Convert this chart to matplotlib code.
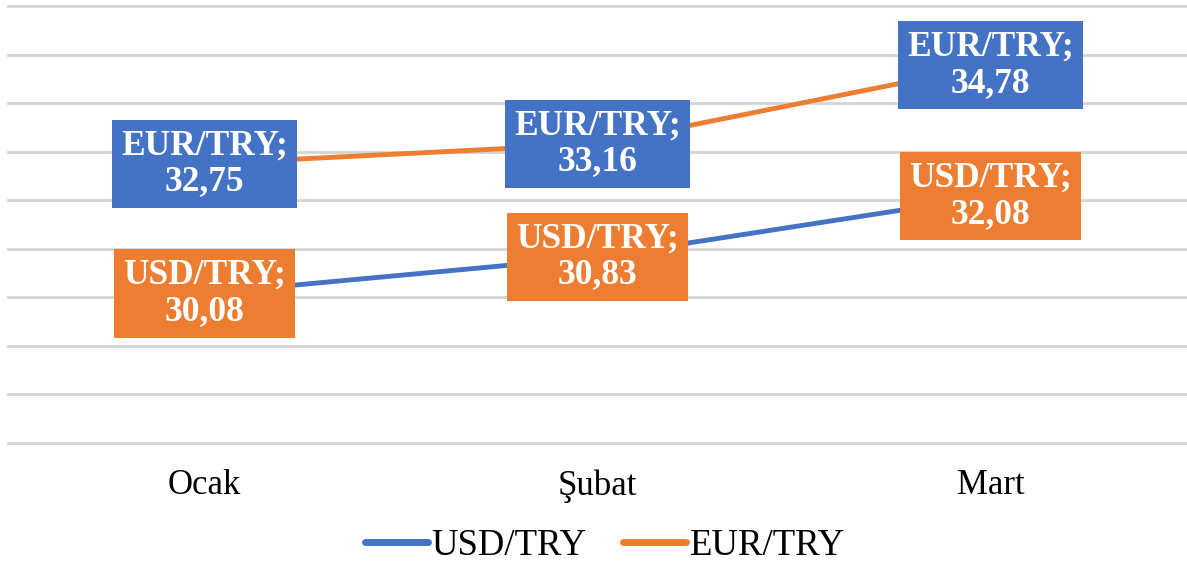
import matplotlib.pyplot as plt
import numpy as np

# Aylık kur verisi
months = ['Ocak', 'Şubat', 'Mart']
usd_try = [30.08, 30.83, 32.08]
eur_try = [32.75, 33.16, 34.78]

blue = '#4472C4'
orange = '#ED7D31'

plt.rcParams['font.family'] = ['Liberation Serif', 'DejaVu Serif']

fig = plt.figure(figsize=(11.87, 5.71), dpi=100)
ax = fig.add_axes([8 / 1187, 1 - 443 / 571, 1 - 8 / 1187, 437 / 571])

x = np.arange(len(months))
ax.plot(x, usd_try, color=blue, lw=3.5, label='USD/TRY', zorder=3, solid_capstyle='round')
ax.plot(x, eur_try, color=orange, lw=3.5, label='EUR/TRY', zorder=3, solid_capstyle='round')

# Veri etiketleri (kutulu)
for xi, v in zip(x, usd_try):
    ax.text(xi, v, 'USD/TRY;\n' + f'{v:.2f}'.replace('.', ','), ha='center', va='center',
            color='white', fontsize=25.5, fontweight='bold', linespacing=1.12, zorder=5,
            bbox=dict(boxstyle='square,pad=0.27', fc=orange, ec='none'))
for xi, v in zip(x, eur_try):
    ax.text(xi, v, 'EUR/TRY;\n' + f'{v:.2f}'.replace('.', ','), ha='center', va='center',
            color='white', fontsize=25.5, fontweight='bold', linespacing=1.12, zorder=5,
            bbox=dict(boxstyle='square,pad=0.27', fc=blue, ec='none'))

ax.set_xlim(-0.5, 2.5)
ax.set_ylim(27, 36)
ax.set_yticks(np.arange(27, 37, 1))
ax.set_yticklabels([])
ax.set_xticks(x)
ax.set_xticklabels(months, fontsize=25)
ax.tick_params(axis='both', length=0, pad=19)
ax.grid(axis='y', color='#d4d4d4', lw=2, zorder=0)
for gl in ax.get_ygridlines():
    gl.set_clip_on(False)
ax.set_axisbelow(True)
for s in ax.spines.values():
    s.set_visible(False)

leg = fig.legend(loc='center', bbox_to_anchor=(605 / 1187, 1 - 546 / 571), ncol=2, frameon=False,
                 fontsize=26.5, handlelength=1.7, handletextpad=0.1, columnspacing=1.0)
for ln in leg.get_lines():
    ln.set_linewidth(5)

fig.savefig('out.png', dpi=100)
